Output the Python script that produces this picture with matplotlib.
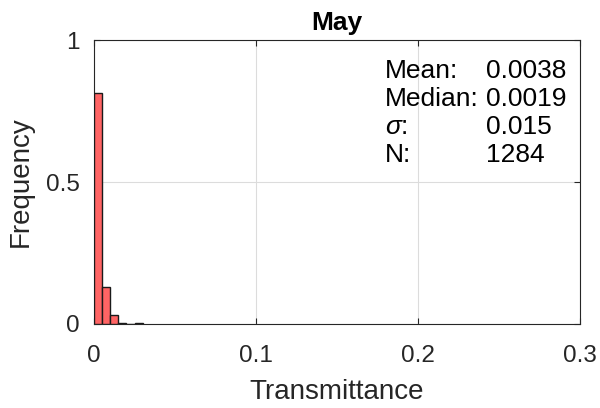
import numpy as np
import matplotlib
matplotlib.use("Agg")
import matplotlib.pyplot as plt

plt.rcParams['font.family'] = ['Liberation Sans', 'DejaVu Sans']
plt.rcParams['mathtext.fontset'] = 'custom'
plt.rcParams['mathtext.it'] = 'Liberation Sans:italic'
plt.rcParams['mathtext.rm'] = 'Liberation Sans'

# Histogram of transmittance (normalised frequency per bin)
bin_edges = [0.0, 0.005, 0.010, 0.015, 0.020, 0.025, 0.030]
freq = [0.815, 0.130, 0.032, 0.004, 0.0, 0.003]

stat_names = ["Mean:", "Median:", r"$\sigma$:", "N:"]
stat_values = ["0.0038", "0.0019", "0.015", "1284"]

W, H = 600, 408
fig = plt.figure(figsize=(W / 100, H / 100), dpi=100)
ax_l, ax_r, ax_t, ax_b = 94, 580, 40, 324
ax = fig.add_axes([ax_l / W, (H - ax_b) / H, (ax_r - ax_l) / W, (ax_b - ax_t) / H])

lefts = np.array(bin_edges[:-1])
widths = np.diff(bin_edges)
ax.bar(lefts, freq, width=widths, align='edge', color='#ff6464',
       edgecolor='#1a1a1a', linewidth=1.0, zorder=3)

ax.set_xlim(0, 0.3)
ax.set_ylim(0, 1)
ax.set_xticks([0, 0.1, 0.2, 0.3])
ax.set_xticklabels(["0", "0.1", "0.2", "0.3"])
ax.set_yticks([0, 0.5, 1])
ax.set_yticklabels(["0", "0.5", "1"])
ax.grid(True, color='#dcdcdc', linewidth=0.8, zorder=0)
ax.tick_params(direction='in', top=True, right=True, labelsize=17.5,
               length=4, width=0.8, colors='#262626')
ax.tick_params(axis='x', pad=15)
ax.tick_params(axis='y', pad=10)
for s in ax.spines.values():
    s.set_color('#262626')
    s.set_linewidth(0.8)

ax.set_title("May", fontsize=19, fontweight='bold', pad=7, color='black')
ax.set_xlabel("Transmittance", fontsize=20, color='#262626', labelpad=9)
ax.set_ylabel("Frequency", fontsize=20, color='#262626', labelpad=9)

# Summary statistics block, one row per statistic
name_x, value_x = 385, 486
first_baseline, line_step = 78, 28
for i, (name, val) in enumerate(zip(stat_names, stat_values)):
    yb = (ax_b - (first_baseline + i * line_step)) / (ax_b - ax_t)
    ax.text((name_x - ax_l) / (ax_r - ax_l), yb, name, transform=ax.transAxes,
            fontsize=19, va='baseline', ha='left', color='black')
    ax.text((value_x - ax_l) / (ax_r - ax_l), yb, val, transform=ax.transAxes,
            fontsize=19, va='baseline', ha='left', color='black')

fig.savefig("out.png", dpi=100)
